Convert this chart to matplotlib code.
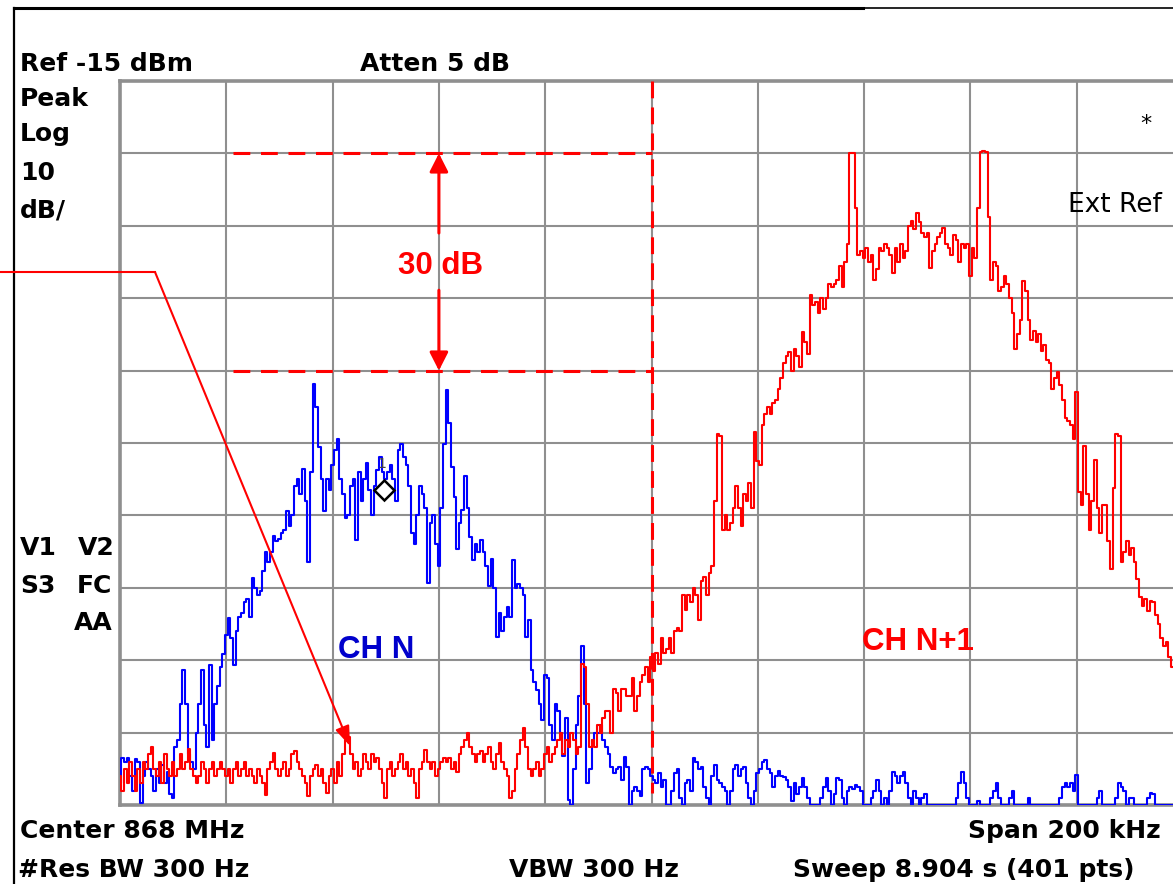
import numpy as np
import matplotlib
matplotlib.use('Agg')
import matplotlib.pyplot as plt

plt.rcParams['font.family'] = ['DejaVu Sans']

W, H = 1173, 884

# Instrument settings
ref_level_dbm = -15
db_per_div = 10
n_div = 10
span_khz = 200
n_pts = 401

# Trace of channel N (blue), dBm, 401 sweep points
ch_n_dbm = [
    -112, -108.5, -109, -108.5, -111, -113, -108.7, -109, -114.7, -111,
    -109, -110, -111, -113, -110, -112, -109.5, -112, -110.5, -113.5,
    -114, -107, -106, -101, -96.4, -101, -108, -109, -110, -105,
    -101, -96.3, -104, -107, -95.7, -106, -101, -98.6, -96, -94.2,
    -91.5, -89.2, -92, -95.7, -91, -89, -88.5, -87, -86.5, -89,
    -83.6, -85, -86, -85.5, -82.7, -80, -81.5, -80, -77.9, -78.5,
    -78.2, -77.5, -77, -74.4, -76.5, -75, -71, -70, -72, -68.6,
    -73, -81.5, -69, -56.8, -60, -65.6, -70, -74.4, -70, -71.5,
    -68, -66, -64.5, -70, -72, -75.3, -75, -71, -70, -78.4,
    -69, -73, -70, -67.8, -71.5, -75, -71, -68.7, -67, -69,
    -70, -69, -68, -70, -73, -66, -65.1, -67, -68, -71,
    -77.5, -79, -75, -71, -72, -74, -84.3, -76, -75, -79,
    -82, -74, -65.1, -57.7, -62.3, -68.3, -72.4, -79.7, -76, -74.2,
    -69.6, -74, -78, -81.1, -79, -80, -78.4, -80, -82, -84.7,
    -81, -85, -91.8, -88.5, -91, -89, -87.6, -89, -81.1, -85,
    -84.5, -85, -86, -91.8, -89.5, -96.4, -98, -99.1, -101, -103.3,
    -97, -97.5, -104, -106, -101, -102, -105, -108.3, -103, -114.3,
    -115, -110, -104, -100, -93, -101, -112, -110, -106, -105,
    -105, -104, -106, -107, -108, -109.7, -110.6, -110, -109.7, -111.5,
    -108.4, -109.7, -115, -113, -112.5, -113, -113.8, -110, -109.7, -110,
    -111, -111.5, -112, -110.6, -112.5, -111.5, -115, -115, -113, -110.6,
    -110, -114, -115, -112, -111.5, -113, -108.5, -109, -110, -109.7,
    -112.5, -114, -115, -111, -109.5, -111.5, -112, -112.5, -113, -115,
    -113, -110, -109.5, -111, -110, -109.7, -112, -114, -115, -113,
    -110.6, -110, -109, -108.8, -110, -110.6, -112.5, -111, -110.3, -111,
    -111.2, -111.5, -112.5, -114.5, -112, -113.5, -112.5, -111.3, -112.5, -114,
    -115, -115, -115, -115, -114, -112.5, -111.3, -113, -115, -113.5,
    -111.3, -111.5, -114, -115, -113, -112.5, -112.8, -112.2, -112.5, -113,
    -115, -115, -115, -114, -113, -111.5, -113, -115, -114, -115,
    -113, -110.5, -111, -112, -111, -110.5, -112, -114, -115, -113,
    -114, -115, -114, -113.5, -115, -115, -115, -115, -115, -115,
    -115, -115, -115, -115, -115, -114, -112, -110.4, -112, -114,
    -115, -115, -115, -114.5, -115, -115, -115, -115, -114, -113,
    -112, -114, -115, -115, -115, -114, -113, -115, -115, -115,
    -115, -115, -114, -115, -115, -115, -115, -115, -115, -115,
    -115, -115, -115, -115, -114, -112.5, -112, -112.5, -112, -113,
    -110.8, -115, -115, -115, -115, -115, -115, -115, -114, -113,
    -115, -115, -115, -115, -115, -114, -112, -112.5, -113, -115,
    -114, -114, -115, -115, -115, -115, -115, -114, -113.3, -113.5,
    -115, -115, -115, -115, -115, -115, -115, -115, -115, -115,
    -115,
]

# Trace of channel N+1 (red), dBm, 401 sweep points
ch_n1_dbm = [
    -111, -113, -110, -112, -109, -111, -113, -110, -112, -109,
    -110, -108, -107, -110, -111, -109, -112, -108, -110, -111,
    -109, -111, -110, -108, -110, -109, -107.3, -110, -111, -112,
    -111, -109, -110, -112, -110, -109, -111, -110, -109, -110,
    -111, -110, -112, -110, -109, -111, -110, -109, -111, -110,
    -111, -112, -110, -111, -112, -113.6, -110, -109, -107.8, -110,
    -111, -110, -109, -111, -110, -108, -107.5, -109, -110, -111,
    -112, -113.8, -111, -110, -109.5, -111, -110, -112, -113.3, -111,
    -110, -112, -109, -111, -108, -106, -105.6, -108, -110, -109,
    -111, -110, -108, -109, -110, -108, -109, -108.5, -110, -112,
    -114, -110, -109, -111, -110, -109, -108, -110, -109, -111,
    -110, -112, -114, -110, -109, -107.4, -109, -110, -109, -111,
    -110, -109, -108.5, -109, -108.5, -110, -109, -110.5, -108, -107,
    -106, -105, -107, -108, -109, -108, -107.5, -109, -108, -107,
    -109, -110, -108, -106.5, -109, -110, -111, -114, -113, -110,
    -108, -106, -104.3, -107, -110, -111, -110, -109, -111, -110,
    -108, -107, -109, -108, -107, -106, -105, -108, -106, -107,
    -105, -106, -108, -107, -95.5, -96, -101, -107, -106, -107,
    -104, -105, -103, -102, -102, -105, -99, -99.5, -102, -99,
    -99, -100, -100, -97.5, -102, -100, -98, -97, -96, -98,
    -94.5, -96.5, -94, -95.5, -92, -94, -93.5, -92, -94, -91,
    -90.5, -91, -86, -88, -86, -87, -85, -86, -89.5, -84,
    -83.5, -86, -83, -82, -73, -63.7, -64, -77, -75, -77,
    -76, -74, -71, -74, -76.5, -72, -73, -70.5, -74, -63.5,
    -67.5, -68, -62.5, -61, -60, -61, -59.5, -59, -57.5, -56,
    -54, -53, -52.5, -55, -52, -53, -54.5, -49.7, -51, -52.7,
    -44.5, -46, -45.5, -47, -45, -46.5, -45, -43, -43.5, -43,
    -42.5, -40.5, -43.5, -40, -37.5, -25, -25, -32.5, -39, -38.5,
    -39.5, -38, -40, -39, -42.5, -41, -38, -38.5, -37.5, -38,
    -39, -41.5, -38, -40, -37.5, -39.5, -38.5, -35, -34.3, -35.5,
    -33.3, -34.5, -36, -36.5, -36, -40.8, -38.5, -37.5, -36.5, -36,
    -35.3, -37.5, -38, -39, -36.3, -37, -40, -37.5, -38, -37.5,
    -42, -38, -39.5, -32.6, -24.8, -24.6, -24.8, -33.8, -42.5, -40,
    -40.5, -44, -43.5, -42, -43, -45, -47, -52, -50, -48,
    -42.6, -44, -48, -50.8, -49.5, -51, -50, -52.3, -51.5, -53.5,
    -54, -57.5, -56, -55.2, -57, -59, -61.5, -62, -62.5, -64.4,
    -58, -71.7, -73.6, -65.4, -72, -77, -73, -67.3, -74, -77.5,
    -73.6, -73.6, -78.5, -82.4, -71.2, -63.7, -64, -81.4, -80, -78.5,
    -80.5, -79.5, -81.5, -83.8, -86.3, -87.5, -86.5, -88.2, -86.8, -87,
    -88.7, -90, -92, -93, -92.5, -94.5, -96, -95, -97, -96,
    -98,
]

# Annotation values
level_top_dbm = -25
level_bottom_dbm = -55
marker_khz, marker_dbm = -50.3, -71.5

freq_khz = np.linspace(-span_khz / 2, span_khz / 2, n_pts)
y_bottom = ref_level_dbm - n_div * db_per_div

fig = plt.figure(figsize=(W / 100, H / 100), dpi=100)
fig.patch.set_facecolor('white')

ax = fig.add_axes([120 / W, (H - 805) / H, 1063 / W, 724 / H])
ax.set_xlim(-span_khz / 2, span_khz / 2)
ax.set_ylim(y_bottom, ref_level_dbm)
ax.set_xticks(np.linspace(-span_khz / 2, span_khz / 2, n_div + 1))
ax.set_yticks(np.arange(y_bottom, ref_level_dbm + 1, db_per_div))
ax.tick_params(length=0, labelbottom=False, labelleft=False)
ax.grid(True, color='#8f8f8f', lw=1.5)
ax.set_axisbelow(True)
for s in ax.spines.values():
    s.set_color('#8f8f8f')
    s.set_linewidth(2.6)

ax.plot(freq_khz, ch_n_dbm, color='#0000ff', lw=1.5, drawstyle='steps-mid', zorder=3)
ax.plot(freq_khz, ch_n1_dbm, color='#ff0000', lw=1.5, drawstyle='steps-mid', zorder=4)

# dashed reference lines
red = '#ff0000'
ax.plot([-78.7, 0], [level_top_dbm, level_top_dbm], color=red, lw=2.2, dashes=(5.5, 3.5), zorder=5)
ax.plot([-78.7, 0], [level_bottom_dbm, level_bottom_dbm], color=red, lw=2.2, dashes=(5.5, 3.5), zorder=5)
ax.plot([0, 0], [ref_level_dbm, -113.3], color=red, lw=2.2, dashes=(5.5, 3.0), zorder=5)

# 30 dB double arrow
arr = dict(arrowstyle='-|>,head_length=0.55,head_width=0.28', color=red, lw=2.2,
           mutation_scale=20, shrinkA=0, shrinkB=0)
ax.annotate('', xy=(-40, level_top_dbm), xytext=(-40, -36.0), arrowprops=arr, zorder=6)
ax.annotate('', xy=(-40, level_bottom_dbm), xytext=(-40, -43.9), arrowprops=arr, zorder=6)

# marker 1
ax.plot([marker_khz], [marker_dbm], marker='D', ms=10, mfc='none', mec='black', mew=1.8, zorder=7)
ax.text(marker_khz - 0.5, -68.4, '1', fontsize=10, color='#444444', ha='center', va='baseline', zorder=7)

# overlay in pixel coordinates for screen text
ov = fig.add_axes([0, 0, 1, 1], zorder=10)
ov.set_xlim(0, W)
ov.set_ylim(H, 0)
ov.axis('off')
ov.patch.set_alpha(0)

# outer frame lines
ov.plot([14, 14], [8, H], color='black', lw=1.6)
ov.plot([14, 863], [8, 8], color='black', lw=2.2)
ov.plot([863, W], [8, 8], color='black', lw=1.2)

bold = dict(family='DejaVu Sans', weight='bold', fontsize=18, va='baseline', color='black')
ov.text(20, 71, 'Ref -15 dBm', **bold)
ov.text(360, 71, 'Atten 5 dB', **bold)
ov.text(20, 105.5, 'Peak', **bold)
ov.text(20, 141.5, 'Log', **bold)
ov.text(20, 180, '10', **bold)
ov.text(20, 217, 'dB/', **bold)
ov.text(20, 555, 'V1', **bold)
ov.text(78, 555, 'V2', **bold)
ov.text(20, 593, 'S3', **bold)
ov.text(77, 593, 'FC', **bold)
ov.text(113, 630, 'AA', ha='right', **bold)
ov.text(20, 838, 'Center 868 MHz', **bold)
ov.text(1161, 838, 'Span 200 kHz', ha='right', **bold)
ov.text(18, 877, '#Res BW 300 Hz', **bold)
ov.text(509, 877, 'VBW 300 Hz', **bold)
ov.text(793, 877, 'Sweep 8.904 s (401 pts)', **bold)
ov.text(1162, 212, 'Ext Ref', family='DejaVu Sans', fontsize=19, va='baseline', ha='right', color='black')
ov.text(1146, 130, '*', family='DejaVu Sans', fontsize=16, va='baseline', ha='center', color='black')

ann = dict(family='Liberation Sans', weight='bold', fontsize=22.5, va='baseline')
ov.text(440.5, 274, '30 dB', ha='center', color=red, **ann)
ov.text(338, 658, 'CH N', ha='left', color='#0000cc', **ann)
ov.text(862, 650, 'CH N+1', ha='left', color=red, **ann)

# pointer line to the CH N+1 floor
ov.plot([0, 155], [272, 272], color=red, lw=1.5)
ov.annotate('', xy=(350, 746), xytext=(155, 272),
            arrowprops=dict(arrowstyle='-|>,head_length=0.6,head_width=0.22', color=red, lw=1.5,
                            mutation_scale=20, shrinkA=0, shrinkB=0))

fig.savefig('out.png', dpi=100, facecolor='white')
